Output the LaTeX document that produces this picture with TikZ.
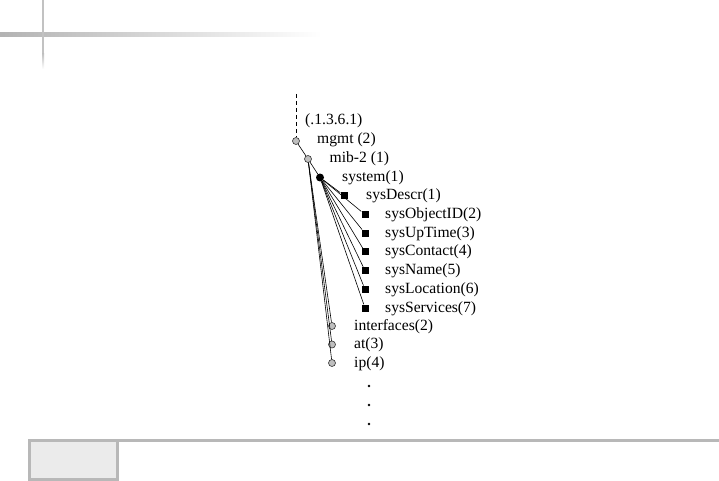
\documentclass[tikz,border=0pt]{standalone}
\usepackage{fontspec}
\setmainfont{Liberation Serif}
\usetikzlibrary{positioning}

\begin{document}
\begin{tikzpicture}[x=1pt, y=-1pt,
  oid/.style={circle, draw=black!80, fill=black!25, inner sep=0pt, minimum size=7pt, line width=0.6pt},
  grp/.style={circle, fill=black, inner sep=0pt, minimum size=8pt},
  leaf/.style={rectangle, fill=black, inner sep=0pt, minimum size=7pt},
  dotn/.style={circle, fill=black, inner sep=0pt, minimum size=2.6pt},
  lbl/.style={anchor=base west, inner sep=0pt, yshift=-4pt, font=\fontsize{15.6}{17}\selectfont},
  link/.style={line width=0.6pt}]
\useasboundingbox (0,0) rectangle (719,481);
% page decoration
\shade[left color=black!30, right color=white] (0,33) rectangle (322,37);
\fill[black!24] (42,0) rectangle (44,54);
\shade[top color=black!24, bottom color=white] (42,54) rectangle (44,69);
\fill[black!28] (28,439) rectangle (719,442);
\draw[black!28, line width=3pt, fill=black!8] (29.5,440.5) rectangle (117.5,479.5);
% tree
\coordinate (top) at (296,94);
\node[oid] (mgmt) at (296,141) {};
\node[oid] (mib2) at (308,159) {};
\node[grp] (sys) at (320,177.5) {};
\node[leaf] (s1) at (344,195.5) {};
\foreach \i/\y in {2/214.5,3/233.2,4/251.9,5/270.6,6/289.3,7/308}
  \node[leaf] (s\i) at (365,\y) {};
\node[oid] (ifc) at (332,326) {};
\node[oid] (at) at (332,344.5) {};
\node[oid] (ip) at (332,363) {};
\foreach \i/\y in {1/386,2/405,3/424}
  \node[dotn] (d\i) at (369,\y) {};
% labels
\node[lbl] (l0) at (305,121) {(.1.3.6.1)};
\node[lbl] (l1) at (317,140) {mgmt (2)};
\node[lbl] (l2) at (329.5,158.5) {mib-2 (1)};
\node[lbl] (l3) at (342,177) {system(1)};
\node[lbl] (ls1) at (366,195.5) {sysDescr(1)};
\node[lbl] (ls2) at (385,214.5) {sysObjectID(2)};
\node[lbl] (ls3) at (385,233.2) {sysUpTime(3)};
\node[lbl] (ls4) at (385,251.9) {sysContact(4)};
\node[lbl] (ls5) at (385,270.6) {sysName(5)};
\node[lbl] (ls6) at (385,289.3) {sysLocation(6)};
\node[lbl] (ls7) at (385,308) {sysServices(7)};
\node[lbl] (lifc) at (354,326) {interfaces(2)};
\node[lbl] (lat) at (354,344.5) {at(3)};
\node[lbl] (lip) at (354,363) {ip(4)};
% connectors
\draw[link, dash pattern=on 4pt off 3pt] (top) -- (mgmt);
\draw[link] (mgmt) -- (mib2);
\draw[link] (mib2) -- (sys);
\foreach \i in {1,...,7} \draw[link] (sys) -- (s\i);
\foreach \n in {ifc,at,ip} \draw[link] (mib2) -- (\n);
\end{tikzpicture}
\end{document}
